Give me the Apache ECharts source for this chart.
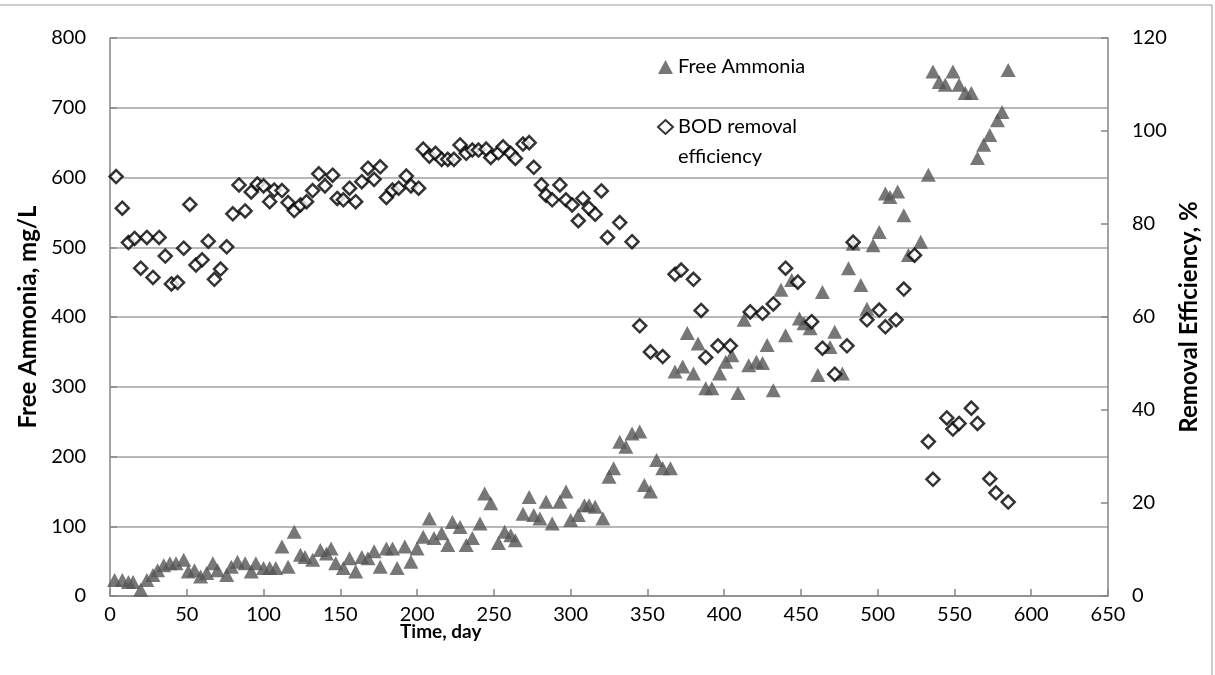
<!DOCTYPE html>
<html>
<head>
<meta charset="utf-8">
<script src="https://cdn.jsdelivr.net/npm/echarts@6/dist/echarts.min.js"></script>
<style>
html,body{margin:0;padding:0;background:#fff;}
#chart{width:1215px;height:675px;}
</style>
</head>
<body>
<div id="chart"></div>
<script>
// Free Ammonia (mg/L) vs time (day)
const faDays = [3,8,12,15,20,24,28,31,35,39,43,48,51,55,59,63,67,70,76,79,83,88,92,95,100,104,108,112,116,120,124,127,132,137,141,144,147,152,156,160,164,168,172,176,180,184,187,192,196,200,204,208,211,216,220,223,228,232,236,241,244,248,253,257,261,264,269,273,276,280,284,288,293,297,300,305,309,312,316,321,325,328,332,336,340,345,348,352,356,360,365,368,373,376,380,383,388,392,397,401,405,409,413,416,421,425,428,432,437,440,444,449,452,456,461,464,469,472,477,481,484,489,493,497,501,505,508,513,517,520,528,533,536,540,544,549,553,557,561,565,569,573,578,581,585];
const faValues = [23,23,20,20,9,23,30,37,44,47,47,52,35,37,28,33,47,37,30,42,49,47,35,47,40,40,40,71,42,92,59,56,52,66,61,68,47,40,54,35,56,54,64,42,68,68,40,71,49,68,85,111,83,90,73,106,99,73,83,104,147,133,76,92,87,80,118,142,116,111,135,104,135,150,109,116,130,130,128,111,171,183,221,214,233,236,159,150,195,183,183,322,329,377,319,362,298,298,319,336,345,291,396,331,336,334,360,295,439,374,453,398,391,384,317,436,357,379,319,470,505,446,412,503,522,577,572,580,546,489,508,604,752,737,733,752,733,721,721,628,647,661,682,694,754];

// BOD removal efficiency (%) vs time (day)
const bodDays = [4,8,12,16,20,24,28,32,36,40,44,48,52,56,60,64,68,72,76,80,84,88,92,96,100,104,107,112,116,120,124,128,132,136,140,145,148,152,156,160,164,168,172,176,180,184,188,193,196,201,204,208,212,216,220,224,228,232,236,240,245,248,253,256,261,264,269,273,276,281,284,288,293,297,301,305,308,312,316,320,324,332,340,345,352,360,368,372,380,385,388,396,404,417,425,432,440,448,457,464,472,480,484,493,501,505,512,517,524,533,536,545,549,553,561,565,573,577,585];
const bodValues = [90.2,83.4,76,76.9,70.5,77.1,68.5,77.1,73.1,67.1,67.4,74.8,84.2,71.2,72.3,76.3,68.1,70.3,75.1,82.2,88.4,82.8,86.9,88.6,88.2,84.8,87.3,87.2,84.6,82.9,84.1,84.8,87.2,90.8,88.2,90.5,85.5,85.2,87.7,84.8,89.1,92,89.6,92.3,85.7,87.3,87.7,90.3,88.2,87.7,96.1,94.6,95.2,93.9,93.9,93.9,97,95.2,95.9,95.9,96.1,94.3,95.3,96.6,95.2,94.1,97.2,97.5,92.2,88.4,86.2,85.2,88.4,85.2,84.1,80.7,85.5,83.4,82.1,87.1,77.1,80.3,76.2,58.1,52.5,51.5,69.2,70.1,68.1,61.4,51.3,53.8,53.8,61.1,60.8,62.8,70.5,67.5,59,53.3,47.7,53.8,76.1,59.4,61.5,57.9,59.4,66,73.3,33.2,25.1,38.3,35.9,37.1,40.4,37.1,25.2,22.2,20.2];

const xTicks = {min: 0, max: 650, interval: 50};
const leftTicks = {min: 0, max: 800, interval: 100};
const rightTicks = {min: 0, max: 120, interval: 20};

const faData = faDays.map((d, i) => [d, faValues[i]]);
const bodData = bodDays.map((d, i) => [d, bodValues[i]]);

const FONT = 'Lato, "Open Sans", sans-serif';
const FS = 20;
const chart = echarts.init(document.getElementById('chart'), null, {renderer: 'canvas'});
const axisLine = {show: true, lineStyle: {color: '#868686', width: 1.5}};
const tick = {show: true, inside: true, length: 7, lineStyle: {color: '#868686', width: 1.5}};
const lbl = {color: '#000', fontSize: FS, fontFamily: FONT};

chart.setOption({
  animation: false,
  backgroundColor: '#fff',
  grid: {left: 110, right: 107, top: 38, bottom: 79, containLabel: false},
  legend: {
    orient: 'vertical',
    left: 652,
    top: 47,
    itemGap: 0,
    itemWidth: 15,
    itemHeight: 14,
    textStyle: {fontSize: FS, fontFamily: FONT, color: '#000', lineHeight: 30},
    data: [{name: 'Free Ammonia'}, {name: 'BOD removal efficiency'}],
    formatter: function (n) { return n === 'BOD removal efficiency' ? ' \nBOD removal\nefficiency' : n; }
  },
  xAxis: {
    type: 'value',
    min: xTicks.min, max: xTicks.max, interval: xTicks.interval,
    axisLine: axisLine,
    axisTick: tick,
    splitLine: {show: false},
    axisLabel: Object.assign({margin: 9}, lbl)
  },
  yAxis: [
    {
      type: 'value',
      min: leftTicks.min, max: leftTicks.max, interval: leftTicks.interval,
      name: 'Free Ammonia, mg/L',
      nameLocation: 'middle',
      nameGap: 66,
      nameTextStyle: {fontSize: 24, fontWeight: 'bold', fontFamily: FONT, color: '#000'},
      axisLine: axisLine,
      axisTick: tick,
      splitLine: {show: true, lineStyle: {color: '#a0a0a0', width: 1.5}},
      axisLabel: Object.assign({margin: 24}, lbl)
    },
    {
      type: 'value',
      min: rightTicks.min, max: rightTicks.max, interval: rightTicks.interval,
      name: 'Removal Efficiency, %',
      nameLocation: 'middle',
      nameGap: 62,
      nameTextStyle: {fontSize: 24, fontWeight: 'bold', fontFamily: FONT, color: '#000'},
      axisLine: axisLine,
      axisTick: tick,
      splitLine: {show: false},
      axisLabel: Object.assign({margin: 24}, lbl)
    }
  ],
  graphic: [
    {type: 'text', left: 400, top: 622, style: {text: 'Time, day', fontSize: 19, fontWeight: 'bold', fontFamily: FONT, fill: '#000'}},
    {type: 'line', shape: {x1: 0, y1: 5, x2: 1212, y2: 5}, style: {stroke: '#999', lineWidth: 1}},
    {type: 'line', shape: {x1: 1212, y1: 5, x2: 1212, y2: 675}, style: {stroke: '#999', lineWidth: 1}}
  ],
  series: [
    {
      name: 'Free Ammonia',
      type: 'scatter',
      yAxisIndex: 0,
      symbol: 'triangle',
      symbolSize: [15, 14],
      itemStyle: {color: '#555555'},
      data: faData
    },
    {
      name: 'BOD removal efficiency',
      type: 'scatter',
      yAxisIndex: 1,
      symbol: 'diamond',
      symbolSize: [13, 13],
      itemStyle: {color: '#ffffff', borderColor: '#000000', borderWidth: 2.5},
      data: bodData
    }
  ]
});
</script>
</body>
</html>
